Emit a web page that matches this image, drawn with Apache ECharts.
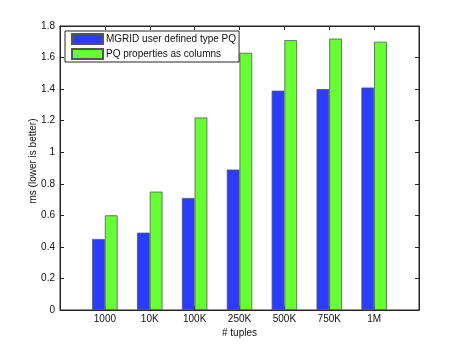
<!DOCTYPE html>
<html>
<head>
<meta charset="utf-8">
<script src="https://cdn.jsdelivr.net/npm/echarts@6/dist/echarts.min.js"></script>
<style>
  html, body { margin: 0; padding: 0; background: #fff; }
  #main { width: 463px; height: 349px; }
</style>
</head>
<body>
<div id="main"></div>
<script>
// categories along the bottom
var categories = ["1000", "10K", "100K", "250K", "500K", "750K", "1M"];
// ms per query
var mgridValues = [0.45, 0.49, 0.71, 0.89, 1.39, 1.40, 1.41];
var columnValues = [0.60, 0.75, 1.22, 1.63, 1.71, 1.72, 1.70];
var yTicks = [0, 0.2, 0.4, 0.6, 0.8, 1, 1.2, 1.4, 1.6, 1.8];

var font = "Liberation Sans";
var lineColor = "#262626";

// bars sit at positions 1..7 of a 0..8 axis, like matlab
function toPoints(vals) {
  return vals.map(function (v, i) { return [i + 1, v]; });
}

var chart = echarts.init(document.getElementById("main"));

function tickX(pos) {
  return {
    type: "value", min: 0, max: 8, interval: 1, position: pos,
    axisLine: { show: true, onZero: false, lineStyle: { color: lineColor, width: 1 } },
    axisTick: { show: true, inside: true, length: 4, lineStyle: { color: lineColor } },
    splitLine: { show: false }
  };
}
function tickY(pos) {
  return {
    type: "value", min: 0, max: 1.8, interval: 0.2, position: pos,
    axisLine: { show: true, onZero: false, lineStyle: { color: lineColor, width: 1 } },
    axisTick: { show: true, inside: true, length: 4, lineStyle: { color: lineColor } },
    splitLine: { show: false }
  };
}

var xBottom = tickX("bottom");
xBottom.name = "# tuples";
xBottom.nameLocation = "middle";
xBottom.nameGap = 18;
xBottom.nameMoveOverlap = false;
xBottom.nameTextStyle = { fontFamily: font, fontSize: 10, color: "#111" };
xBottom.axisLabel = {
  margin: 4, fontSize: 10, color: "#111", fontFamily: font,
  formatter: function (v) { return categories[v - 1] || ""; }
};
var xTop = tickX("top");
xTop.axisLabel = { show: false };

var yLeft = tickY("left");
yLeft.name = "ms (lower is better)";
yLeft.nameLocation = "middle";
yLeft.nameGap = 22;
yLeft.nameMoveOverlap = false;
yLeft.nameTextStyle = { fontFamily: font, fontSize: 10, color: "#111", padding: [0, 0, 0, 14] };
yLeft.axisLabel = {
  margin: 5, fontSize: 10, color: "#111", fontFamily: font,
  formatter: function (v) {
    var t = yTicks.find(function (y) { return Math.abs(y - v) < 1e-6; });
    return t === undefined ? "" : String(t);
  }
};
var yRight = tickY("right");
yRight.axisLabel = { show: false };

chart.setOption({
  animation: false,
  textStyle: { fontFamily: font },
  grid: { left: 60, right: 44, top: 26, bottom: 39, show: true, borderColor: lineColor, borderWidth: 1 },
  legend: {
    orient: "vertical",
    left: 65, top: 31,
    padding: [2, 3, 2, 6],
    itemGap: 3,
    itemWidth: 31,
    itemHeight: 10,
    backgroundColor: "#fff",
    borderColor: lineColor,
    borderWidth: 1,
    textStyle: { fontFamily: font, fontSize: 10, color: "#111", padding: [0, 0, 0, -2] },
    data: [
      { name: "MGRID user defined type PQ", icon: "rect" },
      { name: "PQ properties as columns", icon: "rect" }
    ]
  },
  xAxis: [xBottom, xTop],
  yAxis: [yLeft, yRight],
  series: [
    {
      name: "MGRID user defined type PQ",
      type: "bar",
      data: toPoints(mgridValues),
      barWidth: 12.7,
      barGap: "0%",
      itemStyle: { color: "#2a3dff", borderColor: "#555", borderWidth: 0.8 }
    },
    {
      name: "PQ properties as columns",
      type: "bar",
      data: toPoints(columnValues),
      barWidth: 12.7,
      barGap: "0%",
      itemStyle: { color: "#66ff33", borderColor: "#555", borderWidth: 0.8 }
    },
    {
      // empty helper so the top and right tick axes get drawn
      type: "line",
      xAxisIndex: 1,
      yAxisIndex: 1,
      data: [],
      silent: true
    }
  ]
});
</script>
</body>
</html>
